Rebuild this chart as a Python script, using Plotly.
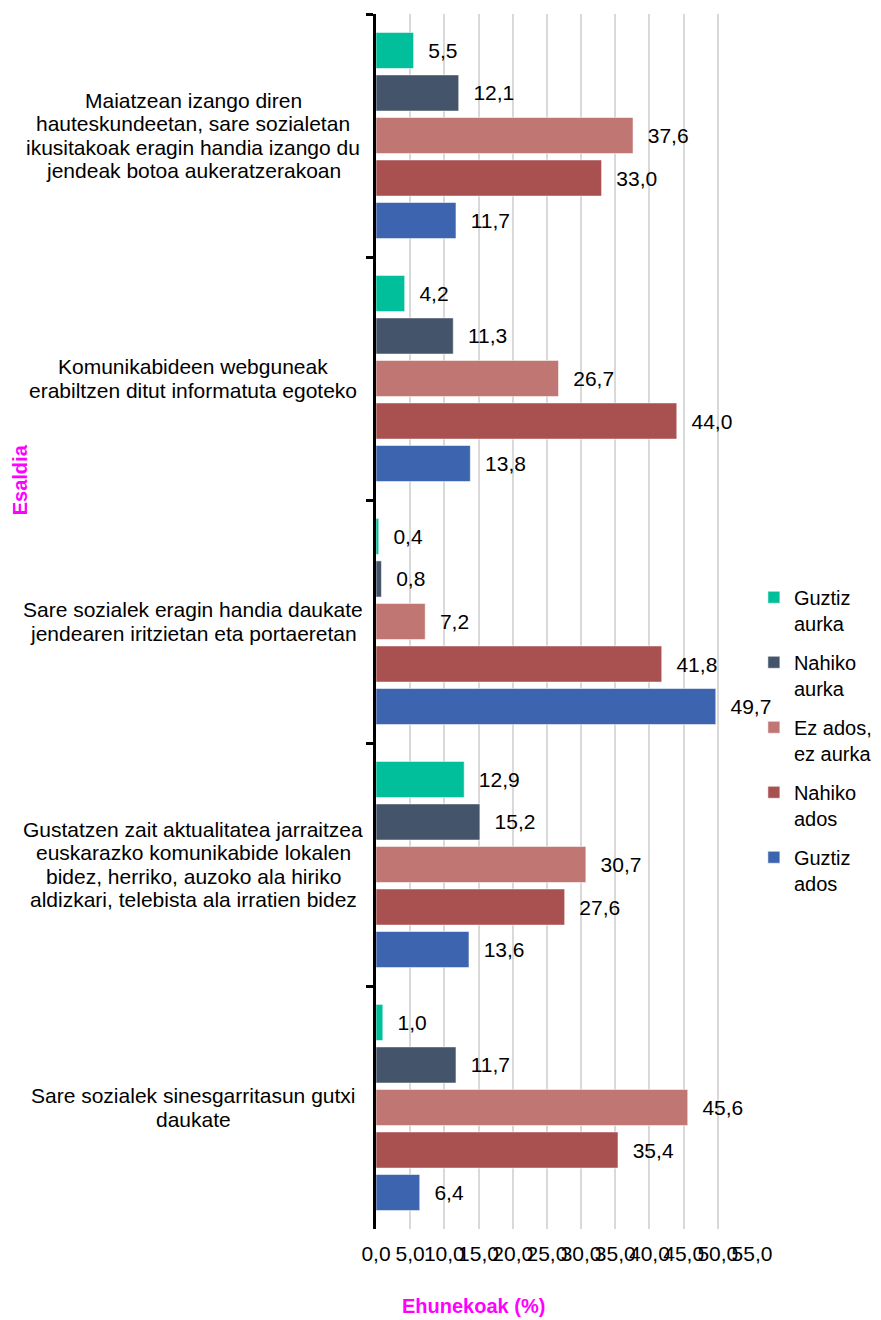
import plotly.graph_objects as go

# ---- data ----
categories = [
    "Maiatzean izango diren<br>hauteskundeetan, sare sozialetan<br>ikusitakoak eragin handia izango du<br>jendeak botoa aukeratzerakoan",
    "Komunikabideen webguneak<br>erabiltzen ditut informatuta egoteko",
    "Sare sozialek eragin handia daukate<br>jendearen iritzietan eta portaeretan",
    "Gustatzen zait aktualitatea jarraitzea<br>euskarazko komunikabide lokalen<br>bidez, herriko, auzoko ala hiriko<br>aldizkari, telebista ala irratien bidez",
    "Sare sozialek sinesgarritasun gutxi<br>daukate",
]
series_names = ["Guztiz<br>aurka", "Nahiko<br>aurka", "Ez ados,<br>ez aurka", "Nahiko<br>ados", "Guztiz<br>ados"]
guztiz_aurka = [5.5, 4.2, 0.4, 12.9, 1.0]
nahiko_aurka = [12.1, 11.3, 0.8, 15.2, 11.7]
ez_ados_ez_aurka = [37.6, 26.7, 7.2, 30.7, 45.6]
nahiko_ados = [33.0, 44.0, 41.8, 27.6, 35.4]
guztiz_ados = [11.7, 13.8, 49.7, 13.6, 6.4]
series_values = [guztiz_aurka, nahiko_aurka, ez_ados_ez_aurka, nahiko_ados, guztiz_ados]
series_colors = ["#00BF9A", "#44546A", "#C07673", "#A95050", "#3D64AE"]
x_tick_values = [0, 5, 10, 15, 20, 25, 30, 35, 40, 45, 50, 55]
y_title = "Esaldia"
x_title = "Ehunekoak (%)"

FONT = "Liberation Sans, Arial, sans-serif"
FS = 21


def fmt(v):
    return f"{v:.1f}".replace(".", ",")


fig = go.Figure()
for name, vals, col in zip(series_names, series_values, series_colors):
    fig.add_trace(go.Bar(
        y=categories,
        x=vals,
        orientation="h",
        name=name,
        legendgroup=name,
        marker=dict(color=col, line=dict(color="rgba(255,255,255,0.55)", width=1)),
        text=["\u00a0\u00a0" + fmt(v) for v in vals],
        textposition="outside",
        textfont=dict(family=FONT, size=FS, color="#000000"),
        cliponaxis=False,
        constraintext="none",
        hoverinfo="x+name",
    ))

annotations = []
for cat in categories:
    lines = cat.split("<br>")
    n = len(lines)
    for i, line in enumerate(lines):
        annotations.append(dict(
            xref="paper", yref="y", x=-0.4854, y=cat,
            text=line, showarrow=False, xanchor="center", yanchor="middle",
            yshift=-(i - (n - 1) / 2) * 23.5,
            font=dict(family=FONT, size=FS, color="#000000"),
        ))

annotations.append(dict(
    xref="paper", yref="paper", x=-0.947, y=0.617, text="<b>" + y_title + "</b>",
    textangle=-90, showarrow=False, xanchor="center", yanchor="middle",
    font=dict(family=FONT, size=20, color="#FF00FF"),
))
annotations.append(dict(
    xref="paper", yref="paper", x=0.26, y=-0.063, text="<b>" + x_title + "</b>",
    showarrow=False, xanchor="center", yanchor="middle",
    font=dict(family=FONT, size=20, color="#FF00FF"),
))

fig.update_layout(
    width=873, height=1312,
    margin=dict(l=368, r=129, t=6, b=91, autoexpand=False),
    paper_bgcolor="white", plot_bgcolor="white",
    barmode="group", bargap=0.125, bargroupgap=0.15,
    separators=",.",
    font=dict(family=FONT, size=FS, color="#000000"),
    showlegend=True,
    legend=dict(
        x=1.005, xanchor="left", y=0.536, yanchor="top",
        font=dict(family=FONT, size=20, color="#000000"),
        valign="top", tracegroupgap=10, traceorder="grouped",
        bgcolor="rgba(0,0,0,0)",
    ),
    annotations=annotations,
    xaxis=dict(
        range=[0, 55], tickvals=x_tick_values, tickformat=".1f", tickangle=0,
        showgrid=True, gridcolor="#D9D9D9", gridwidth=1.5,
        zeroline=False, showline=False, ticks="", automargin=False,
        tickfont=dict(family=FONT, size=FS, color="#000000"),
        ticklabelstandoff=10,
    ),
    yaxis=dict(
        autorange="reversed", type="category", automargin=False,
        showticklabels=False, showgrid=False, zeroline=False,
        showline=True, linecolor="#000000", linewidth=2.5,
        ticks="outside", tickson="boundaries", ticklen=7, tickwidth=2.5, tickcolor="#000000",
    ),
)

fig.write_html("out.html")
